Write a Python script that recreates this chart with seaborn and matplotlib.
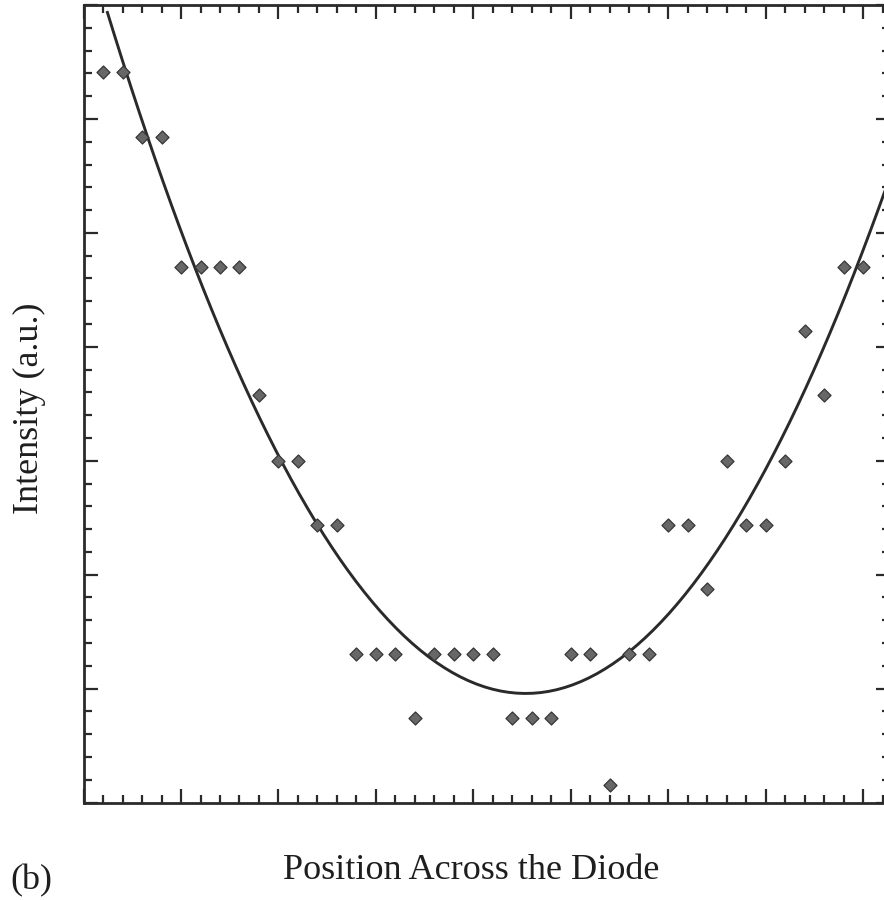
import matplotlib
matplotlib.use("Agg")
import matplotlib.pyplot as plt
from matplotlib.ticker import MultipleLocator
import pandas as pd
import seaborn as sns

# Sample positions across the diode (arbitrary units) and measured intensity
position = [0.2, 0.4, 0.6, 0.8, 1.0, 1.2, 1.4, 1.6, 1.8, 2.0,
            2.2, 2.4, 2.6, 2.8, 3.0, 3.2, 3.4, 3.6, 3.8, 4.0,
            4.2, 4.4, 4.6, 4.8, 5.0, 5.2, 5.4, 5.6, 5.8, 6.0,
            6.2, 6.4, 6.6, 6.8, 7.0, 7.2, 7.4, 7.6, 7.8, 8.0]
intensity = [6.41, 6.41, 5.84, 5.84, 4.70, 4.70, 4.70, 4.70, 3.58, 3.00,
             3.00, 2.44, 2.44, 1.30, 1.30, 1.30, 0.74, 1.30, 1.30, 1.30,
             1.30, 0.74, 0.74, 0.74, 1.30, 1.30, 0.15, 1.30, 1.30, 2.44,
             2.44, 1.87, 3.00, 2.44, 2.44, 3.00, 4.14, 3.58, 4.70, 4.70]

x_label = "Position Across the Diode"
y_label = "Intensity (a.u.)"
panel_tag = "(b)"

sns.set_theme(style="ticks")
plt.rcParams["font.family"] = ["Liberation Serif", "DejaVu Serif"]

ink = "#2a2a2a"
W, H = 884, 900
fig = plt.figure(figsize=(W / 100, H / 100), dpi=100)
fig.patch.set_facecolor("white")

# frame in pixels; the right edge of the frame sits just beyond the page
left_px, right_px, top_px, bottom_px = 83.6, 889.5, 5.0, 802.5
unit_px = 97.43
ax = fig.add_axes([left_px / W, 1 - bottom_px / H,
                   (right_px - left_px) / W, (bottom_px - top_px) / H])
ax.set_facecolor("white")

df = pd.DataFrame({"position": position, "intensity": intensity})

# Quadratic least-squares fit, drawn from the first sample out past the frame
ax.set_xlim(0.24, 8.4)
sns.regplot(data=df, x="position", y="intensity", order=2, ci=None,
            truncate=False, scatter=False, ax=ax,
            line_kws=dict(color=ink, lw=2.1, solid_capstyle="butt"))

sns.scatterplot(data=df, x="position", y="intensity", marker="D", s=44,
                color="#676767", edgecolor="#363636", linewidth=0.9,
                ax=ax, zorder=3, legend=False)

ax.set_xlim(0, (right_px - left_px) / unit_px)
ax.set_ylim(0, 7)

for axis in (ax.xaxis, ax.yaxis):
    axis.set_major_locator(MultipleLocator(1))
    axis.set_minor_locator(MultipleLocator(0.2))

ax.tick_params(which="both", direction="in", top=True, right=True,
               bottom=True, left=True,
               labelbottom=False, labelleft=False, color=ink, width=1.6)
ax.tick_params(which="major", length=10)
ax.tick_params(which="minor", length=5.5)
for sp in ax.spines.values():
    sp.set_visible(True)
    sp.set_linewidth(2.0)
    sp.set_color(ink)

ax.set_xlabel(x_label, fontsize=26, color="#1e1e1e")
ax.xaxis.label.set_va("baseline")
ax.xaxis.set_label_coords((471 - left_px) / (right_px - left_px),
                          (bottom_px - 879) / (bottom_px - top_px))

ax.set_ylabel(y_label, fontsize=26, color="#1e1e1e")
ax.yaxis.label.set_va("baseline")
ax.yaxis.set_label_coords((38 - left_px) / (right_px - left_px),
                          (bottom_px - 408) / (bottom_px - top_px))

fig.text(10 / W, 1 - 889 / H, panel_tag, fontsize=26, color="#1e1e1e",
         ha="left", va="baseline")

fig.savefig("out.png", dpi=100, facecolor="white")
